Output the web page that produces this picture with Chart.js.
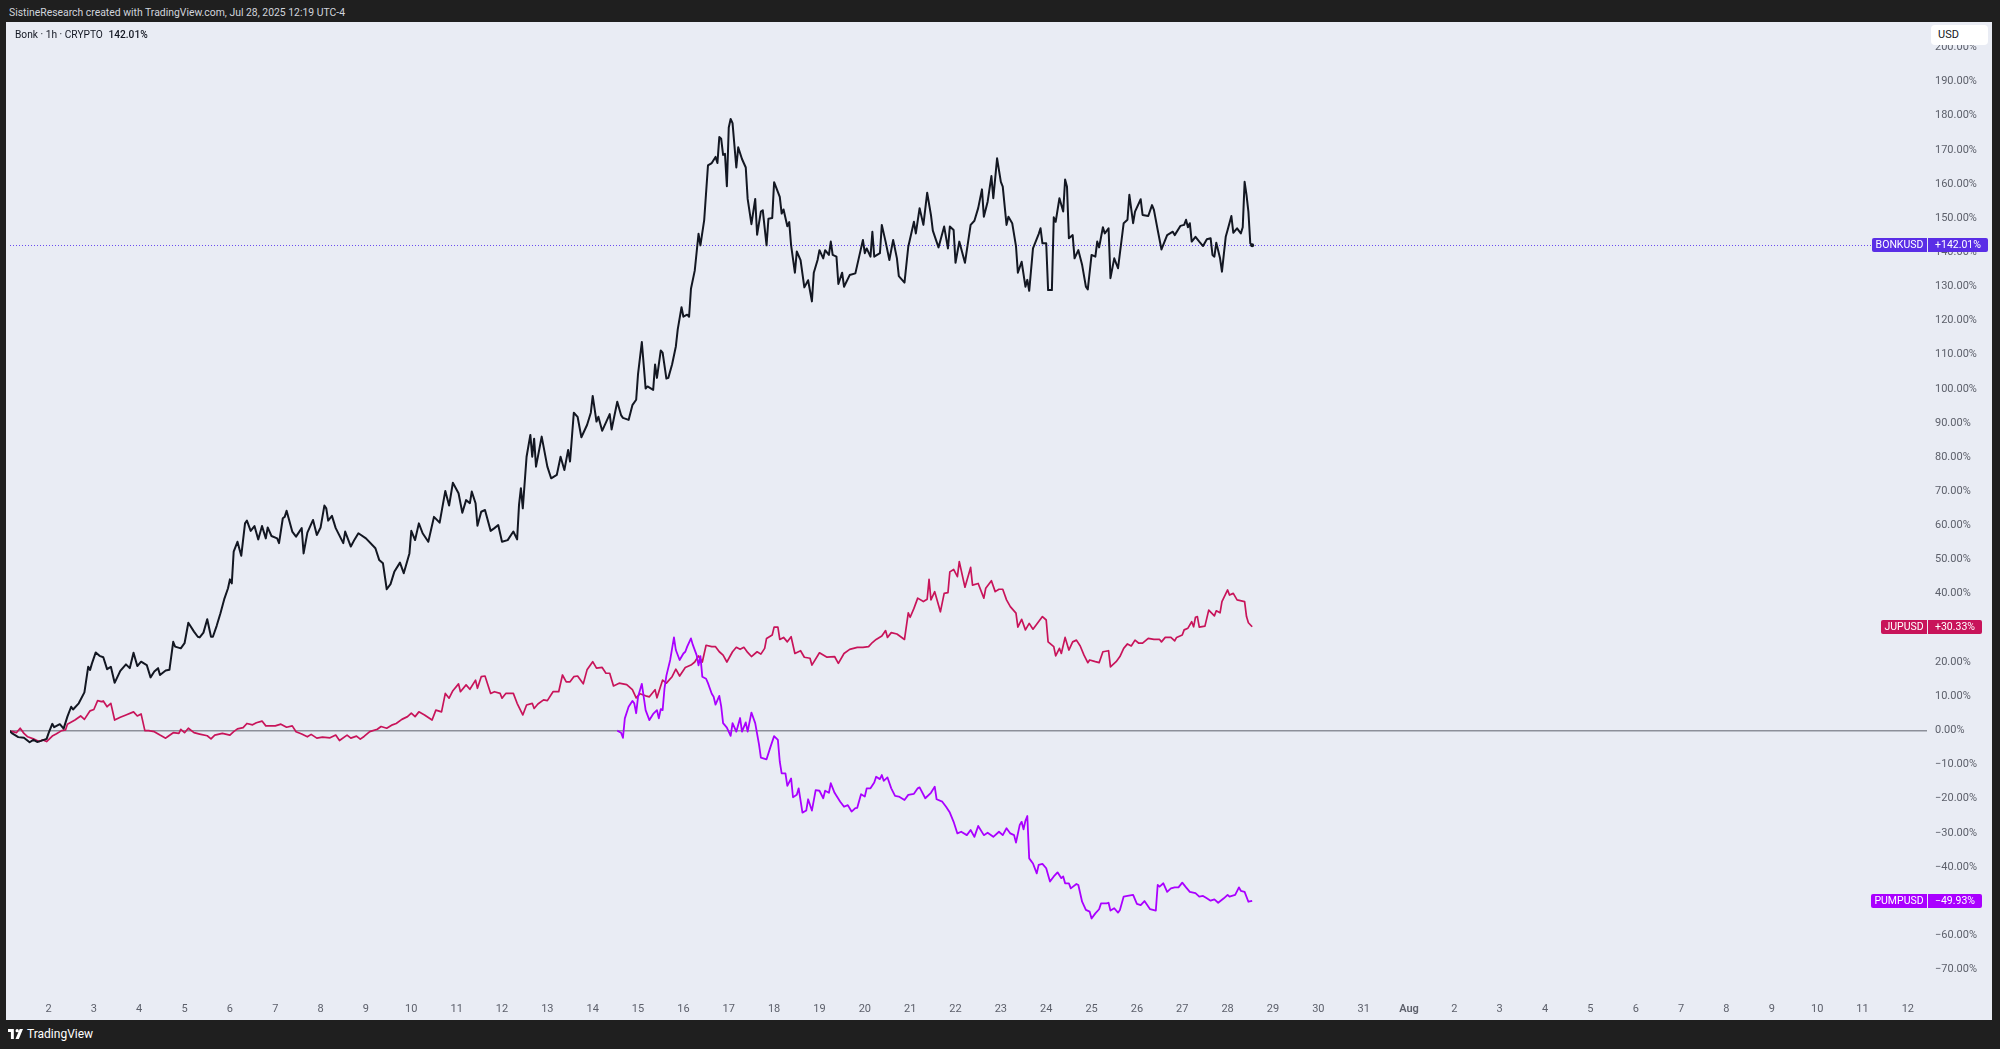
<!DOCTYPE html>
<html>
<head>
<meta charset="utf-8">
<script src="https://cdn.jsdelivr.net/npm/chart.js@4/dist/chart.umd.min.js"></script>
<style>
  html, body { margin:0; padding:0; }
  body { width:2000px; height:1049px; background:#1f1f1f; overflow:hidden; position:relative; font-family: Roboto, "Noto Sans", sans-serif; }
  #credit { position:absolute; left:9px; top:6px; font-size:10.4px; color:#d1d4dc; white-space:nowrap; }
  #panel { position:absolute; left:6px; top:22px; width:1986px; height:998px; background:#e9ecf4; }
  #chart { position:absolute; left:0; top:0; }
  #legend { position:absolute; left:9px; top:7px; font-size:10.2px; color:#131722; white-space:nowrap; }
  #legend b { font-weight:500; margin-left:3px; }
  #usd { position:absolute; left:1925px; top:3px; width:57px; height:20px; background:#ffffff; border-radius:4px; font-size:11px; color:#131722; line-height:20px; padding-left:7px; box-sizing:border-box; }
  #tv { position:absolute; left:8px; top:1027px; height:14px; display:flex; align-items:center; color:#ffffff; font-size:12px; }
  #tv svg { margin-right:4px; }
</style>
</head>
<body>
<div id="credit">SistineResearch created with TradingView.com, Jul 28, 2025 12:19 UTC-4</div>
<div id="panel">
  <canvas id="chart" width="1986" height="998"></canvas>
  <div id="legend">Bonk · 1h · CRYPTO <b>142.01%</b></div>
  <div id="usd">USD</div>
</div>
<div id="tv"><svg width="15" height="10" viewBox="0 0 36 24"><path d="M0 0h14v24H7V7H0z M22 0a4 4 0 1 1 0 8a4 4 0 1 1 0-8z M28 0h8l-10 24h-8z" fill="#ffffff"/></svg>TradingView</div>
<script>
// ---- data: [hours since Jul 1 00:00 (UTC-4), % change] ----
const bonkSeries = [[3,0],[5,-1],[8,-2],[11,-2.2],[14,-3.5],[16,-2.8],[18,-3.4],[20,-3.1],[23,-2.5],[24,-0.9],[26,1.9],[27,0.9],[30,1.8],[32,0.5],[34,4.0],[36,6.9],[37,6.1],[40,7.9],[43,11.1],[45,18.6],[46,17.7],[47,19.6],[49,22.8],[51,21.8],[53,21.4],[55,17.9],[57,18.6],[59,13.9],[62,17.4],[65,19.3],[67,18.2],[69,22.7],[71,18.8],[73,20.1],[76,19.1],[78,15.5],[80,17.2],[82,18.2],[83,16.2],[86,17.5],[88,17.7],[90,25.9],[91,24.5],[94,24.0],[96,25.5],[98,31.5],[101,28.9],[103,27.4],[104,27.2],[106,28.6],[108,32.5],[110,27.4],[111,27.4],[113,30.6],[115,34.3],[117,38.4],[119,41.6],[120,44.2],[121,43.0],[122,52.3],[124,55.2],[126,51.1],[128,60.6],[129,61.4],[131,58.4],[133,59.8],[135,55.9],[137,59.8],[139,56.2],[140,59.4],[142,56.9],[145,56.2],[146,54.8],[148,62.1],[149,62.5],[150,64.3],[153,58.2],[155,56.7],[158,59.2],[159,51.8],[161,57.9],[164,61.6],[166,57.2],[168,59.4],[170,65.8],[171,65.0],[172,61.4],[174,62.8],[176,59.2],[180,54.8],[181,58.2],[184,53.8],[186,55.9],[188,57.7],[192,56.2],[197,53.3],[199,49.9],[201,48.9],[203,41.3],[205,42.8],[207,46.4],[210,49.1],[212,46.0],[215,51.8],[216,58.4],[218,55.7],[220,60.6],[222,57.7],[225,55.2],[228,62.5],[231,60.8],[234,70.1],[236,65.8],[238,72.5],[241,69.4],[243,63.7],[245,67.4],[247,66.5],[248,69.9],[250,66.5],[251,59.9],[253,64.0],[255,64.5],[258,58.4],[260,59.2],[262,60.1],[264,55.2],[267,55.7],[270,58.2],[272,55.9],[273,66.0],[274,70.9],[275,65.0],[277,80.1],[279,86.5],[280,80.1],[281,85.4],[282,77.2],[285,86.0],[288,77.2],[290,73.8],[293,74.8],[295,80.1],[297,76.2],[299,82.1],[300,78.7],[302,93.0],[304,91.8],[306,85.8],[309,89.4],[311,93.0],[312,97.9],[314,90.4],[315,91.8],[317,87.7],[321,92.6],[322,88.1],[325,96.2],[327,92.3],[328,91.5],[331,90.9],[333,95.2],[335,96.8],[336,104.4],[338,113.7],[340,100.1],[341,100.7],[344,99.7],[345,107.1],[346,103.2],[348,111.2],[349,110.6],[351,103.0],[352,103.2],[354,107.1],[356,112.4],[357,117.4],[359,123.9],[360,121.1],[362,121.7],[363,121.1],[364,129.3],[366,134.6],[368,145.4],[369,142.0],[371,149.4],[373,165.4],[375,166.1],[377,167.9],[378,166.1],[379,173.7],[380,173.2],[381,168.5],[382,168.8],[383,159.3],[384,176.5],[385,179.0],[386,177.8],[388,164.8],[389,170.7],[391,167.3],[393,164.8],[394,155.6],[396,148.2],[398,155.6],[399,145.1],[401,151.9],[402,152.3],[404,142.0],[405,149.8],[407,150.0],[408,160.5],[411,156.2],[412,151.3],[413,152.5],[415,147.6],[416,148.8],[417,142.0],[419,134.0],[420,140.2],[422,137.7],[424,129.7],[426,131.8],[428,125.6],[429,134.0],[431,137.7],[432,140.6],[434,138.2],[435,140.6],[437,139.2],[438,143.1],[439,139.2],[441,138.7],[442,130.7],[444,134.0],[445,129.9],[448,133.3],[451,133.8],[453,138.7],[455,143.6],[456,139.7],[457,141.1],[459,138.7],[460,146.0],[461,138.7],[464,139.7],[465,148.0],[467,143.1],[469,137.7],[471,143.6],[473,138.2],[474,133.0],[477,131.1],[479,141.6],[482,148.9],[483,145.5],[485,152.9],[487,148.0],[489,157.4],[491,150.9],[492,146.3],[495,141.4],[498,147.5],[500,141.1],[501,147.5],[503,146.5],[504,136.9],[506,143.1],[509,136.9],[512,148.0],[514,149.2],[516,152.9],[518,158.4],[519,150.4],[521,154.8],[523,162.3],[524,155.8],[526,167.5],[528,160.6],[529,159.2],[531,148.0],[532,150.4],[534,148.5],[536,141.8],[537,134.0],[539,137.2],[541,129.9],[542,131.9],[543,128.7],[545,141.1],[548,145.3],[549,147.0],[550,142.6],[552,142.6],[553,128.9],[555,128.9],[556,150.2],[557,148.9],[559,155.8],[561,151.9],[562,161.3],[563,159.2],[564,144.1],[566,145.0],[567,138.2],[569,140.6],[571,136.3],[573,129.9],[574,129.1],[576,139.2],[578,138.7],[579,143.1],[580,141.4],[582,147.3],[583,145.5],[585,147.0],[586,132.4],[588,138.2],[590,135.3],[593,148.5],[595,149.5],[596,156.8],[598,148.5],[599,151.9],[602,155.5],[603,150.9],[606,150.6],[608,153.8],[609,152.4],[611,146.5],[613,140.8],[616,145.0],[619,146.0],[620,145.0],[623,147.7],[625,148.0],[626,149.5],[627,147.3],[628,148.5],[629,143.1],[631,144.5],[633,143.1],[635,141.8],[637,143.8],[639,144.1],[640,139.2],[641,138.7],[642,142.8],[644,138.2],[645,134.3],[647,144.5],[648,146.5],[650,150.6],[651,145.7],[653,147.0],[655,145.5],[656,147.3],[657,160.6],[658,156.8],[659,151.9],[660,142.6],[661,142.01]];

const jupSeries = [[3,-0.2],[5,-0.4],[7,-0.7],[9,0.6],[11,-0.9],[13,-1.9],[16,-2.5],[19,-3.3],[21,-2.8],[23,-3.3],[26,-1.7],[28,-1.1],[31,-0.1],[33,0.1],[34,1.8],[38,3.0],[41,4.2],[43,3.2],[46,5.7],[48,6.1],[50,8.7],[52,8.4],[53,8.6],[55,6.9],[57,7.9],[59,3.0],[62,3.8],[65,4.5],[69,5.4],[71,4.2],[73,4.8],[75,-0.1],[77,-0.1],[80,-0.4],[83,-1.4],[86,-2.3],[87,-1.9],[90,-0.7],[93,-0.9],[94,0.3],[96,-0.7],[98,0.6],[101,-0.7],[104,-1.1],[108,-1.6],[110,-2.5],[112,-1.4],[116,-0.9],[120,-1.4],[122,-0.4],[124,0.4],[127,0.8],[129,2.0],[132,1.6],[134,2.2],[137,2.7],[139,1.3],[141,1.3],[144,1.3],[147,1.8],[150,0.9],[153,1.3],[155,-0.4],[158,-1.1],[161,-1.9],[163,-1.2],[166,-2.3],[169,-2.0],[173,-2.2],[176,-1.4],[178,-3.0],[182,-1.4],[184,-2.3],[187,-1.7],[189,-2.6],[191,-1.8],[194,-0.4],[198,0.3],[200,1.1],[203,0.6],[206,1.6],[208,2.0],[211,3.2],[214,4.0],[216,5.0],[218,4.0],[220,5.4],[223,4.5],[227,3.0],[229,5.9],[232,5.4],[234,10.8],[236,9.4],[238,11.6],[241,13.6],[242,11.3],[245,13.3],[247,12.0],[250,14.7],[251,12.3],[253,15.7],[255,15.9],[258,10.8],[260,11.3],[263,10.8],[264,9.4],[266,10.8],[270,10.8],[272,7.9],[275,4.5],[277,7.4],[280,7.9],[281,6.4],[283,7.7],[286,8.9],[288,8.7],[291,11.3],[294,11.3],[296,16.2],[298,14.2],[300,14.2],[302,15.7],[304,15.9],[307,13.6],[309,17.7],[312,20.1],[314,18.2],[317,18.4],[319,16.7],[321,16.7],[323,13.0],[326,13.8],[330,13.4],[333,11.9],[335,9.5],[337,10.7],[340,10.1],[342,9.8],[345,11.9],[346,9.5],[349,14.7],[351,13.8],[354,15.7],[356,17.9],[358,15.9],[361,18.4],[364,19.1],[366,20.0],[368,21.8],[370,20.0],[372,24.9],[375,24.5],[377,24.5],[379,23.0],[381,22.0],[383,20.0],[386,23.0],[388,24.3],[390,23.7],[392,24.3],[394,22.8],[396,21.6],[399,23.0],[401,22.3],[403,24.0],[404,26.9],[407,27.9],[408,30.2],[410,30.2],[411,26.6],[413,27.2],[415,25.9],[417,27.4],[419,22.5],[422,23.3],[424,21.4],[427,21.1],[428,19.1],[432,22.7],[436,21.4],[440,21.6],[442,19.6],[445,22.5],[448,23.7],[452,24.3],[455,24.3],[458,24.5],[460,25.7],[462,26.6],[465,27.6],[467,29.2],[468,27.2],[470,28.6],[473,28.2],[475,27.4],[477,26.6],[479,34.4],[480,33.1],[482,35.7],[484,38.7],[487,37.7],[489,38.4],[490,44.2],[491,38.2],[493,40.6],[496,34.7],[498,40.1],[500,40.3],[501,46.4],[503,47.1],[505,45.0],[506,49.4],[509,41.9],[512,47.7],[513,42.5],[516,43.0],[519,38.7],[520,41.6],[523,43.8],[525,40.6],[527,41.3],[529,41.3],[531,38.2],[533,36.2],[536,34.3],[537,30.2],[539,32.5],[541,29.4],[543,31.3],[545,29.6],[550,33.3],[552,32.3],[553,25.9],[556,24.5],[557,21.8],[559,24.0],[560,22.5],[562,27.2],[564,23.5],[566,25.9],[568,26.4],[570,24.7],[572,22.0],[574,19.8],[575,20.6],[578,20.1],[580,19.8],[582,23.0],[585,23.3],[586,18.6],[589,20.1],[591,21.6],[593,24.0],[595,25.3],[597,24.7],[599,26.4],[601,25.5],[603,25.5],[606,26.9],[609,26.6],[612,26.6],[613,25.9],[615,27.2],[618,27.2],[620,26.2],[621,27.2],[624,27.9],[625,29.4],[627,29.9],[629,31.8],[630,30.3],[631,33.1],[632,33.3],[633,30.2],[636,30.5],[638,35.2],[641,33.5],[642,35.0],[644,34.4],[645,37.7],[648,41.1],[649,39.6],[651,40.1],[653,38.2],[657,37.7],[658,33.3],[659,31.5],[661,30.33]];

const pumpSeries = [[325,-0.1],[327,-0.7],[328,-2.2],[329,3.5],[331,6.9],[333,8.6],[334,7.9],[335,5.0],[336,9.8],[338,13.6],[339,9.8],[340,5.9],[342,3.0],[344,4.8],[346,5.9],[347,3.5],[348,6.2],[349,5.9],[350,12.3],[351,16.0],[353,20.6],[355,27.2],[356,23.5],[358,20.6],[360,22.5],[361,23.0],[362,24.5],[364,26.9],[365,25.0],[367,22.0],[368,19.0],[369,21.7],[370,15.7],[372,15.1],[373,13.8],[375,10.7],[376,9.8],[377,7.5],[379,10.1],[380,7.0],[381,2.1],[383,0.8],[385,-1.6],[386,2.1],[388,-0.4],[390,3.6],[391,-0.4],[393,2.3],[394,-0.4],[396,5.2],[398,2.1],[400,-4.1],[401,-8.0],[404,-8.5],[406,-5.0],[408,-1.7],[410,-2.8],[411,-9.2],[412,-12.6],[414,-12.6],[415,-16.3],[417,-14.1],[418,-19.6],[420,-18.9],[421,-17.0],[423,-24.1],[425,-23.5],[426,-20.2],[428,-23.5],[430,-17.5],[432,-17.7],[434,-19.9],[435,-17.7],[437,-18.3],[438,-15.5],[440,-18.3],[443,-20.9],[445,-22.4],[447,-21.9],[449,-23.8],[451,-22.8],[452,-22.7],[454,-18.7],[456,-19.4],[457,-17.0],[459,-17.0],[461,-15.3],[462,-13.6],[464,-14.3],[465,-13.1],[466,-14.8],[468,-13.8],[470,-17.0],[472,-19.2],[474,-19.4],[477,-20.4],[479,-18.9],[482,-18.6],[484,-17.0],[485,-16.7],[488,-19.9],[491,-18.3],[493,-16.5],[494,-20.2],[497,-20.9],[499,-22.4],[501,-24.1],[503,-26.8],[505,-30.2],[507,-29.7],[510,-30.7],[512,-29.2],[514,-31.2],[516,-28.0],[519,-30.7],[521,-30.0],[524,-31.2],[527,-29.7],[529,-30.7],[531,-28.7],[533,-30.2],[535,-30.7],[536,-32.9],[538,-27.7],[539,-26.8],[540,-29.0],[541,-26.5],[542,-25.1],[543,-37.5],[545,-39.0],[547,-41.9],[548,-39.4],[550,-39.1],[552,-40.4],[553,-42.4],[554,-44.3],[556,-42.8],[558,-41.6],[560,-43.3],[561,-42.8],[562,-44.8],[564,-44.8],[565,-46.3],[568,-45.0],[569,-45.3],[571,-50.2],[573,-52.6],[575,-53.1],[576,-55.1],[578,-53.6],[580,-52.4],[581,-50.7],[584,-50.7],[585,-50.5],[586,-52.8],[588,-52.1],[590,-53.4],[591,-52.6],[593,-48.7],[595,-48.5],[598,-48.2],[600,-50.8],[602,-51.2],[604,-50.0],[607,-52.4],[610,-52.8],[611,-45.3],[612,-45.8],[614,-44.8],[616,-47.3],[618,-46.3],[620,-46.0],[622,-46.0],[624,-44.6],[626,-46.0],[628,-47.3],[631,-47.7],[633,-48.7],[635,-48.5],[637,-49.2],[639,-49.9],[641,-49.5],[643,-50.5],[646,-49.2],[648,-48.2],[649,-48.7],[652,-48.2],[654,-46.0],[655,-47.0],[657,-47.3],[659,-50.2],[661,-49.93]];

const seriesNames = ['BONKUSD', 'JUPUSD', 'PUMPUSD'];
const lastValueLabels = ['+142.01%', '+30.33%', '\u221249.93%'];
const seriesColors = ['#131722', '#c8145a', '#aa00ff'];
const labelColors = ['#5a2ee6', '#c8145a', '#aa00ff'];

// x tick positions (hours since Jul 1) and their labels
const xTickHours = [24,48,72,96,120,144,168,192,216,240,264,288,312,336,360,384,408,432,456,480,504,528,552,576,600,624,648,672,696,720,744,768,792,816,840,864,888,912,936,960,984,1008];
const xTickLabels = ['2','3','4','5','6','7','8','9','10','11','12','13','14','15','16','17','18','19','20','21','22','23','24','25','26','27','28','29','30','31','Aug','2','3','4','5','6','7','8','9','10','11','12'];
const yTickValues = [-70,-60,-50,-40,-30,-20,-10,0,10,20,30,40,50,60,70,80,90,100,110,120,130,140,150,160,170,180,190,200];

const toXY = s => s.map(p => ({x: p[0], y: p[1]}));
const lastOf = s => s[s.length - 1][1];
const allSeries = [bonkSeries, jupSeries, pumpSeries];

// axis calibration (canvas px): y = Y0 - YK * value ; x = X0 + XK * hours
const Y0 = 708.3, YK = 3.415, X0 = -2.85, XK = 1.8896;

const fontFamily = 'Roboto, "Noto Sans", sans-serif';
const axisColor = '#5d606b';

const priceLinePlugin = {
  id: 'priceLine',
  beforeDatasetsDraw(chart) {
    const {ctx, chartArea} = chart;
    const y = Math.round(chart.scales.y.getPixelForValue(lastOf(bonkSeries))) + 0.5;
    ctx.save();
    ctx.strokeStyle = '#6a4cf0';
    ctx.lineWidth = 1;
    ctx.setLineDash([1, 2]);
    ctx.beginPath();
    ctx.moveTo(chartArea.left, y);
    ctx.lineTo(chartArea.right - 55, y);
    ctx.stroke();
    ctx.restore();
  },
  afterDraw(chart) {
    const {ctx, chartArea} = chart;
    ctx.save();
    ctx.font = '10.5px ' + fontFamily;
    ctx.textBaseline = 'middle';
    ctx.textAlign = 'center';
    allSeries.forEach((s, i) => {
      const y = Math.round(chart.scales.y.getPixelForValue(lastOf(s)));
      const nameW = Math.round(ctx.measureText(seriesNames[i]).width + 7);
      const valW = Math.round(ctx.measureText(lastValueLabels[i]).width + 14);
      const r = chartArea.right;
      ctx.fillStyle = labelColors[i];
      ctx.beginPath();
      ctx.roundRect(r - nameW, y - 7, nameW, 14, [2, 0, 0, 2]);
      ctx.fill();
      ctx.beginPath();
      ctx.roundRect(r + 1, y - 7, valW, 14, [0, 2, 2, 0]);
      ctx.fill();
      ctx.fillStyle = '#ffffff';
      ctx.fillText(seriesNames[i], r - nameW / 2, y + 0.5);
      ctx.fillText(lastValueLabels[i], r + 1 + valW / 2, y + 0.5);
    });
    ctx.restore();
  }
};

const chart = new Chart(document.getElementById('chart'), {
  type: 'line',
  data: {
    datasets: [
      { label: seriesNames[0], data: toXY(bonkSeries), borderColor: seriesColors[0], borderWidth: 2,
        pointRadius: c => c.dataIndex === bonkSeries.length - 1 ? 2 : 0, pointBackgroundColor: seriesColors[0], pointBorderWidth: 0 },
      { label: seriesNames[2], data: toXY(pumpSeries), borderColor: seriesColors[2], borderWidth: 1.8, pointRadius: 0 },
      { label: seriesNames[1], data: toXY(jupSeries), borderColor: seriesColors[1], borderWidth: 1.7, pointRadius: 0 }
    ]
  },
  options: {
    responsive: false,
    animation: false,
    devicePixelRatio: 1,
    layout: { padding: 0 },
    elements: { line: { tension: 0, borderJoinStyle: 'round' } },
    plugins: { legend: { display: false }, tooltip: { enabled: false } },
    scales: {
      x: {
        type: 'linear',
        min: 1.51, max: 1018.1,
        grid: { display: false, drawTicks: false },
        border: { display: false },
        afterBuildTicks: s => { s.ticks = xTickHours.map(v => ({value: v})); },
        afterFit: s => { s.height = 23; },
        ticks: {
          autoSkip: false, maxRotation: 0, padding: 6, color: axisColor,
          font: c => ({ family: fontFamily, size: 11, weight: (c.tick && xTickLabels[xTickHours.indexOf(c.tick.value)] === 'Aug') ? '600' : '400' }),
          callback: v => xTickLabels[xTickHours.indexOf(v)]
        }
      },
      y: {
        type: 'linear',
        position: 'right',
        min: -78.1, max: 207.4,
        grid: { display: true, drawTicks: false,
                color: c => (c.tick && c.tick.value === 0) ? '#8c8f99' : 'rgba(0,0,0,0)',
                lineWidth: c => (c.tick && c.tick.value === 0) ? 1.5 : 0 },
        border: { display: false },
        afterBuildTicks: s => { s.ticks = yTickValues.map(v => ({value: v})); },
        afterFit: s => { s.width = 65; },
        ticks: {
          autoSkip: false, padding: 8, crossAlign: 'near', color: axisColor,
          font: { family: fontFamily, size: 11 },
          callback: v => (v < 0 ? '\u2212' + Math.abs(v).toFixed(2) : v.toFixed(2)) + '%'
        }
      }
    }
  },
  plugins: [priceLinePlugin]
});

// match the axis ranges to the actual plot area so the scales line up with the panel
const ca = chart.chartArea;
chart.options.scales.y.max = (Y0 - ca.top) / YK;
chart.options.scales.y.min = (Y0 - ca.bottom) / YK;
chart.options.scales.x.min = (ca.left - X0) / XK;
chart.options.scales.x.max = (ca.right - X0) / XK;
chart.update();
</script>
</body>
</html>
